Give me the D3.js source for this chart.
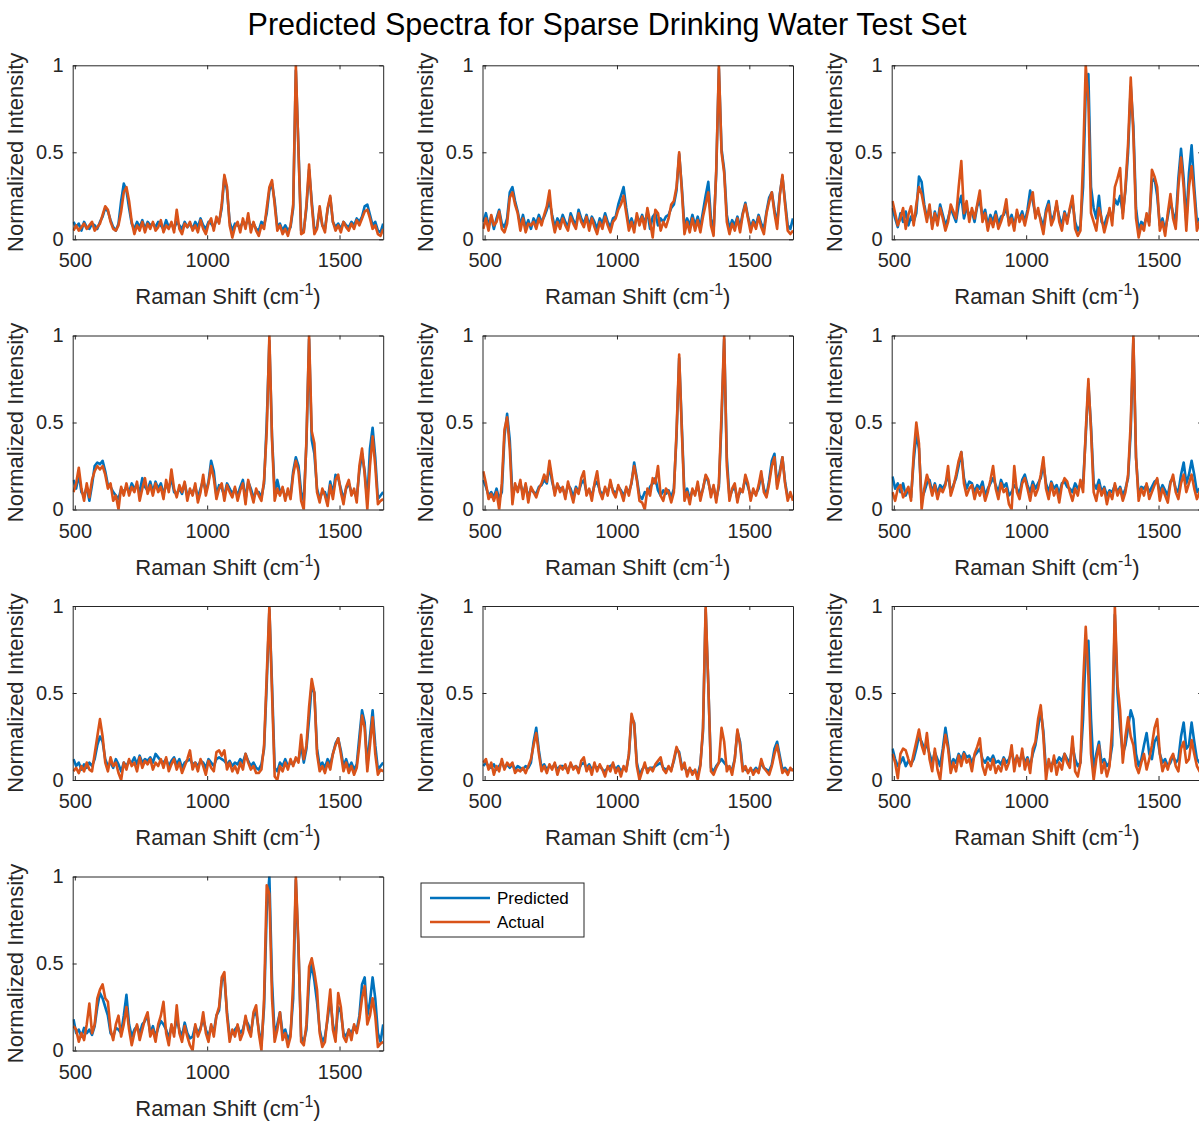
<!DOCTYPE html>
<html>
<head>
<meta charset="utf-8">
<script src="https://cdn.jsdelivr.net/npm/d3@7"></script>
<style>
  body { margin: 0; background: #fff; }
  svg { display: block; font-family: "Liberation Sans", Arial, Helvetica, sans-serif; }
</style>
</head>
<body>
<svg id="chart" width="1199" height="1122"></svg>
<script>
// Raman shift grid (cm^-1), shared by every spectrum
var shifts = [495,505,515,525,535,545,555,565,575,585, 595,605,615,625,635,645,655,665,675,685,
  695,705,715,725,735,745,755,765,775,785, 795,805,815,825,835,845,855,865,875,885,
  895,905,915,925,935,945,955,965,975,985, 995,1005,1015,1025,1035,1045,1055,1065,1075,1085,
  1095,1105,1115,1125,1135,1145,1155,1165,1175,1185, 1195,1205,1215,1225,1235,1245,1255,1265,1275,1285,
  1295,1305,1315,1325,1335,1345,1355,1365,1375,1385, 1395,1405,1415,1425,1435,1445,1455,1465,1475,1485,
  1495,1505,1515,1525,1535,1545,1555,1565,1575,1585, 1595,1605,1615,1625,1635,1645,1655,1665];

// normalized intensities
var predicted1 = [.1,.07,.09,.05,.1,.07,.06,.09,.08,.06, .1,.13,.18,.16,.11,.07,.05,.09,.22,.32, .28,.18,.09,.06,.1,.07,.11,.06,.1,.08, .09,.07,.1,.08,.06,.11,.07,.09,.06,.1, .08,.06,.1,.07,.09,.06,.1,.07,.12,.08, .06,.1,.09,.07,.11,.1,.18,.36,.28,.1,
  .05,.09,.08,.07,.1,.08,.12,.07,.09,.06, .05,.1,.08,.15,.28,.32,.22,.07,.09,.05, .08,.05,.07,.18,.97,.52,.05,.05,.18,.4, .22,.05,.07,.17,.08,.06,.17,.24,.1,.07, .09,.06,.1,.08,.07,.1,.08,.12,.1,.13, .19,.2,.14,.08,.1,.05,.04,.09];
var actual1 = [.05,.08,.05,.07,.09,.06,.08,.1,.05,.07, .09,.14,.19,.17,.1,.06,.05,.08,.16,.27, .3,.22,.1,.03,.08,.05,.1,.04,.09,.06, .1,.05,.07,.11,.04,.08,.06,.1,.04,.17, .06,.03,.09,.07,.1,.05,.08,.04,.11,.06, .03,.09,.12,.05,.13,.09,.2,.37,.3,.08,
  .01,.07,.1,.04,.12,.06,.15,.04,.1,.05, .02,.08,.06,.18,.3,.34,.2,.05,.08,.03, .06,.02,.08,.2,1,.5,.03,.04,.2,.43, .2,.03,.06,.19,.08,.04,.18,.25,.1,.05, .08,.04,.1,.07,.05,.09,.06,.11,.08,.12, .16,.17,.12,.06,.08,.03,.02,.06];

var predicted2 = [.1,.15,.08,.13,.06,.12,.17,.09,.07,.12, .27,.3,.22,.16,.08,.14,.07,.11,.06,.12, .09,.14,.1,.13,.17,.22,.14,.07,.12,.09, .14,.1,.07,.15,.11,.08,.17,.12,.09,.14, .08,.13,.1,.06,.12,.09,.15,.1,.07,.12, .13,.2,.25,.3,.18,.08,.12,.07,.13,.1,
  .14,.09,.16,.06,.13,.15,.08,.12,.1,.13, .14,.18,.2,.28,.49,.3,.07,.12,.08,.14, .08,.13,.07,.16,.25,.33,.12,.05,.38,.98, .52,.4,.14,.06,.11,.08,.13,.07,.15,.21, .13,.07,.11,.08,.14,.09,.06,.16,.24,.27, .17,.09,.26,.36,.22,.08,.06,.12];
var actual2 = [.06,.12,.05,.14,.08,.1,.16,.06,.04,.09, .24,.27,.2,.15,.05,.12,.04,.09,.08,.1, .06,.12,.08,.14,.19,.28,.12,.04,.1,.06, .12,.08,.05,.13,.09,.06,.15,.1,.07,.13, .05,.12,.07,.03,.1,.06,.13,.08,.04,.1, .12,.17,.2,.25,.15,.05,.1,.04,.15,.08,
  .13,.06,.18,.1,.01,.17,.15,.05,.1,.07, .12,.2,.22,.3,.5,.28,.03,.1,.04,.12, .05,.11,.04,.13,.2,.27,.08,.02,.4,1, .5,.38,.1,.03,.09,.05,.12,.04,.14,.2, .12,.04,.1,.06,.13,.07,.03,.15,.22,.27, .15,.06,.25,.37,.2,.05,.03,.05];

var predicted3 = [.18,.12,.07,.15,.1,.16,.08,.13,.1,.15, .36,.33,.2,.12,.18,.08,.16,.1,.2,.14, .08,.12,.18,.14,.1,.2,.25,.12,.18,.14, .16,.1,.19,.22,.13,.17,.08,.14,.1,.16, .09,.13,.14,.18,.1,.14,.08,.15,.12,.16, .1,.17,.28,.22,.14,.16,.12,.07,.17,.22,
  .1,.14,.2,.13,.08,.16,.11,.17,.22,.1, .05,.08,.3,.85,.95,.3,.18,.12,.25,.1, .08,.13,.16,.12,.23,.2,.25,.15,.28,.5, .88,.65,.18,.05,.1,.08,.13,.1,.33,.35, .25,.08,.12,.05,.13,.22,.15,.1,.35,.52, .35,.1,.38,.54,.3,.1,.12,.1];
var actual3 = [.22,.15,.08,.12,.18,.06,.14,.19,.08,.2, .3,.26,.18,.1,.2,.06,.15,.08,.18,.12, .05,.1,.2,.16,.12,.3,.45,.15,.22,.1, .18,.12,.2,.28,.1,.15,.05,.12,.07,.14, .06,.1,.15,.23,.08,.12,.05,.17,.1,.14, .08,.15,.22,.27,.12,.18,.1,.03,.15,.2,
  .08,.12,.22,.1,.05,.15,.09,.18,.25,.06, .02,.05,.45,1,.8,.15,.1,.05,.18,.12, .04,.1,.18,.08,.3,.35,.41,.12,.3,.55, .93,.6,.12,.01,.08,.05,.15,.08,.4,.36, .3,.05,.1,.02,.15,.26,.12,.06,.3,.47, .3,.05,.3,.42,.25,.05,.1,.08];

var predicted4 = [.17,.12,.2,.1,.08,.13,.05,.14,.25,.27, .26,.28,.22,.14,.13,.1,.08,.06,.12,.1, .13,.1,.15,.12,.14,.1,.18,.13,.11,.16, .1,.16,.12,.15,.09,.14,.12,.18,.1,.09, .12,.09,.15,.08,.1,.1,.13,.07,.12,.17, .1,.16,.28,.22,.08,.14,.12,.08,.15,.12,
  .09,.12,.08,.13,.17,.06,.16,.12,.07,.1, .1,.07,.15,.5,.97,.42,.1,.17,.1,.12, .07,.1,.08,.22,.3,.25,.1,.05,.38,.98, .4,.32,.12,.06,.1,.1,.05,.16,.09,.2, .18,.12,.06,.12,.15,.1,.1,.07,.22,.32, .22,.05,.35,.47,.3,.06,.08,.1];
var actual4 = [.1,.15,.24,.12,.05,.15,.07,.17,.22,.25, .23,.25,.2,.12,.15,.05,.08,0,.13,.08, .15,.08,.13,.1,.16,.05,.12,.18,.09,.14, .08,.15,.1,.13,.06,.17,.1,.23,.12,.07, .14,.1,.16,.05,.12,.08,.15,.04,.1,.2, .08,.15,.25,.18,.06,.12,.15,.05,.14,.1,
  .07,.13,.05,.11,.15,.03,.17,.1,.04,.12, .08,.05,.17,.45,1,.4,.05,.12,.08,.13, .05,.12,.06,.2,.28,.22,.05,0,.4,1, .45,.38,.1,.04,.12,.08,.02,.14,.06,.17, .2,.1,.03,.13,.17,.08,.12,.04,.25,.35, .2,0,.25,.42,.25,.03,.05,.06];

var predicted5 = [.17,.13,.08,.1,.07,.12,.06,.1,.42,.55, .4,.08,.13,.12,.15,.09,.14,.07,.12,.1, .09,.13,.14,.17,.15,.25,.16,.1,.14,.12, .12,.08,.14,.12,.07,.13,.1,.15,.17,.1, .11,.08,.14,.16,.11,.08,.12,.1,.15,.11, .09,.13,.11,.08,.12,.1,.15,.27,.18,.08,
  .06,.1,.09,.13,.15,.18,.11,.08,.11,.09, .11,.07,.12,.42,.87,.48,.08,.12,.06,.11, .09,.14,.07,.12,.19,.16,.09,.13,.06,.13, .5,.98,.3,.07,.11,.13,.06,.1,.11,.18, .13,.08,.1,.09,.12,.2,.12,.08,.17,.28, .32,.14,.22,.3,.16,.07,.08,.06];
var actual5 = [.22,.15,.06,.09,.05,.1,0,.15,.46,.53, .35,.03,.15,.1,.17,.06,.15,.04,.13,.1, .07,.12,.15,.2,.16,.28,.18,.08,.15,.1, .13,.06,.16,.1,.04,.12,.09,.18,.22,.08, .12,.05,.15,.22,.1,.06,.13,.08,.17,.1, .07,.14,.1,.05,.13,.08,.16,.25,.17,.05,
  .04,0,.12,.08,.18,.15,.25,.08,.05,.12, .1,.04,.1,.45,.89,.45,.05,.1,.03,.12, .08,.16,.05,.12,.2,.17,.07,.14,.04,.15, .55,1,.25,.05,.12,.15,.04,.12,.1,.2, .15,.05,.12,.08,.14,.22,.1,.07,.15,.25, .3,.12,.2,.3,.15,.05,.1,.05];

var predicted6 = [.19,.12,.15,.1,.15,.08,.12,.07,.28,.43, .35,.06,.1,.15,.17,.1,.15,.09,.14,.12, .15,.2,.1,.14,.18,.25,.33,.18,.12,.16, .15,.1,.14,.12,.16,.08,.12,.15,.18,.14, .1,.17,.13,.15,.08,.1,.14,.12,.09,.17, .2,.14,.1,.16,.12,.15,.18,.26,.15,.1,
  .16,.12,.14,.09,.15,.16,.13,.12,.1,.15, .12,.14,.15,.42,.72,.48,.15,.12,.17,.1, .13,.08,.11,.1,.14,.1,.13,.08,.12,.18, .45,.98,.3,.08,.13,.12,.14,.1,.13,.16, .17,.1,.14,.11,.08,.16,.18,.12,.1,.2, .27,.15,.2,.28,.2,.1,.12,.1];
var actual6 = [.1,.05,.12,.14,.07,.1,.13,.05,.32,.5, .38,0,.12,.2,.15,.08,.14,.06,.12,.1, .14,.25,.08,.13,.2,.28,.33,.15,.08,.12, .14,.06,.12,.08,.13,.05,.1,.17,.25,.12, .06,.15,.1,.12,.03,0,.25,.1,.06,.15, .18,.12,.05,.14,.08,.12,.2,.3,.12,.06,
  .15,.08,.12,.04,.14,.18,.16,.1,.05,.12, .08,.17,.1,.45,.75,.45,.1,.05,.14,.08, .12,.03,.1,.06,.15,.08,.12,.05,.1,.2, .5,1,.3,.05,.12,.08,.15,.06,.1,.14, .18,.05,.12,.08,.04,.15,.2,.1,.06,.15, .2,.1,.15,.2,.12,.06,.1,.08];

var predicted7 = [.12,.08,.1,.06,.09,.07,.1,.08,.12,.2, .25,.22,.12,.08,.1,.07,.12,.09,.05,.1, .08,.11,.1,.13,.09,.14,.1,.12,.11,.13, .1,.15,.13,.11,.1,.12,.08,.11,.13,.09, .12,.07,.1,.11,.12,.09,.1,.08,.11,.1, .07,.12,.1,.08,.12,.13,.12,.11,.09,.11,
  .08,.1,.09,.12,.1,.15,.11,.08,.1,.07, .06,.09,.18,.55,.98,.55,.07,.05,.1,.08, .12,.08,.1,.09,.12,.11,.2,.1,.18,.35, .55,.5,.18,.08,.1,.07,.12,.09,.15,.21, .24,.17,.08,.12,.07,.1,.06,.09,.25,.4, .33,.08,.25,.4,.2,.06,.08,.1];
var actual7 = [.05,.07,.04,.08,.05,.1,.06,.05,.15,.25, .35,.25,.1,.05,.13,.08,.1,.04,0,.1, .06,.12,.08,.1,.05,.13,.07,.11,.09,.12, .06,.1,.08,.12,.07,.13,.05,.09,.12,.06, .1,.04,.08,.12,.17,.06,.1,.05,.12,.08, .03,.11,.07,.05,.16,.17,.14,.17,.06,.1,
  .05,.08,.04,.1,.06,.15,.1,.06,.08,.04, .04,.06,.2,.6,1,.5,.02,0,.08,.05, .1,.06,.12,.08,.13,.1,.26,.12,.2,.42, .58,.5,.15,.05,.08,.04,.1,.06,.15,.2, .24,.15,.05,.1,.04,.08,.03,.07,.2,.37, .3,.05,.2,.36,.15,.03,.06,.05];

var predicted8 = [.08,.1,.08,.07,.09,.06,.08,.1,.07,.09, .07,.09,.06,.08,.07,.06,.08,.07,.1,.22, .3,.17,.07,.09,.06,.08,.07,.09,.06,.08, .08,.07,.06,.09,.07,.08,.06,.09,.1,.07, .09,.06,.08,.07,.08,.06,.05,.07,.08,.09, .06,.08,.05,.07,.06,.14,.36,.33,.1,.03,
  .06,.08,.06,.07,.07,.08,.09,.1,.07,.06, .07,.06,.11,.18,.16,.08,.07,.05,.06,.05, .05,.03,.09,.28,.98,.55,.07,.05,.08,.1, .12,.1,.08,.07,.06,.12,.28,.22,.07,.06, .05,.06,.05,.07,.05,.1,.07,.06,.05,.09, .18,.22,.14,.06,.07,.05,.06,.06];
var actual8 = [.1,.12,.06,.1,.03,.08,.05,.12,.06,.1, .08,.1,.04,.06,.05,.07,.04,.08,.12,.2, .27,.15,.05,.08,.04,.09,.06,.1,.03,.08, .06,.09,.04,.1,.06,.08,.04,.11,.13,.05, .08,.03,.1,.05,.09,.06,.02,.08,.05,.1, .04,.07,.02,.08,.05,.15,.38,.32,.08,0,
  .05,.1,.04,.07,.05,.09,.11,.13,.06,.04, .08,.05,.12,.19,.15,.06,.1,.02,.07,.03, .06,0,.08,.3,1,.55,.05,.03,.07,.1, .3,.22,.05,.08,.03,.12,.29,.2,.05,.08, .04,.07,.03,.06,.04,.12,.07,.05,.03,.08, .15,.2,.12,.04,.06,.03,.07,.05];

var predicted9 = [.18,.12,.08,.1,.13,.08,.11,.09,.12,.18, .25,.22,.18,.2,.15,.1,.16,.12,.08,.18, .3,.2,.08,.12,.1,.15,.12,.16,.13,.14, .1,.14,.16,.18,.12,.1,.13,.11,.14,.1, .11,.09,.13,.1,.12,.16,.1,.13,.11,.15, .1,.13,.08,.15,.2,.3,.4,.28,.05,.1,
  .08,.12,.1,.13,.11,.15,.12,.1,.2,.12, .08,.1,.35,.75,.8,.35,.05,.15,.22,.1, .12,.08,.1,.2,.95,.5,.3,.15,.2,.3, .4,.35,.15,.08,.12,.2,.27,.15,.12,.22, .25,.15,.1,.12,.08,.1,.14,.1,.12,.25, .33,.18,.2,.33,.22,.12,.1,.12];
var actual9 = [.15,.1,.01,.15,.18,.17,.12,.08,.15,.22, .29,.2,.15,.27,.12,.05,.18,.06,0,.15, .26,.18,.04,.1,.05,.14,.08,.15,.1,.12, .05,.15,.19,.24,.08,.03,.1,.06,.12,.04, .08,.05,.12,.06,.1,.2,.05,.14,.08,.18, .06,.12,.04,.18,.22,.35,.43,.25,0,.12,
  .05,.14,.03,.1,.06,.15,.1,.07,.25,.05, .02,.1,.55,.88,.6,.15,0,.12,.2,.04, .1,.02,.08,.3,1,.55,.4,.1,.25,.36, .25,.2,.08,.04,.1,.15,.06,.12,.2,.3, .35,.15,.05,.1,.06,.12,.15,.08,.05,.18, .22,.1,.12,.23,.15,.08,.05,.08];

var predicted10 = [.18,.1,.12,.08,.13,.1,.12,.09,.14,.25, .33,.3,.25,.2,.1,.08,.13,.12,.1,.2, .32,.15,.08,.12,.14,.1,.15,.17,.2,.1, .14,.08,.13,.17,.15,.12,.07,.14,.1,.18, .12,.08,.16,.1,.07,.08,.14,.1,.13,.18, .12,.08,.14,.11,.2,.23,.4,.42,.22,.08,
  .1,.12,.14,.1,.12,.18,.15,.1,.2,.22, .12,.03,.25,.8,1,.4,.08,.15,.22,.1, .12,.06,.1,.3,.98,.58,.08,.05,.12,.4, .5,.4,.28,.12,.05,.08,.18,.3,.15,.08, .25,.22,.1,.08,.12,.1,.14,.12,.2,.38, .42,.2,.28,.42,.3,.1,.05,.15];
var actual10 = [.14,.12,.05,.1,.06,.15,.27,.1,.15,.3, .35,.38,.3,.28,.12,.06,.15,.2,.08,.15, .25,.12,.03,.1,.15,.06,.12,.18,.22,.08, .12,.05,.15,.2,.28,.1,.03,.15,.08,.26, .1,.05,.14,.08,.03,0,.15,.08,.12,.22, .1,.05,.15,.08,.2,.25,.42,.45,.2,.05,
  .12,.08,.15,.06,.1,.2,.12,.08,.22,.26, .1,0,.3,.95,.9,.3,.05,.12,.22,.06, .1,.02,.08,.4,1,.6,.05,.03,.15,.48, .53,.45,.35,.1,.02,.05,.2,.35,.12,.05, .33,.25,.08,.05,.12,.06,.15,.1,.18,.3, .37,.15,.2,.3,.2,.02,.04,.05];

var panels = [
  [predicted1, actual1], [predicted2, actual2], [predicted3, actual3],
  [predicted4, actual4], [predicted5, actual5], [predicted6, actual6],
  [predicted7, actual7], [predicted8, actual8], [predicted9, actual9],
  [predicted10, actual10]
];
var seriesNames = ["Predicted", "Actual"];
var seriesColors = ["#0072BD", "#D95319"];
var xTicks = [500, 1000, 1500];
var yTicks = [0, 0.5, 1];
var title = "Predicted Spectra for Sparse Drinking Water Test Set";

panels.forEach(function(p, i) {
  p.forEach(function(s) {
    if (s.length !== shifts.length) throw new Error("panel " + (i + 1) + " has " + s.length + " points");
  });
});

// layout
var plotW = 310.5, plotH = 174,
  colX = [72.7, 482.5, 891.7],
  rowY = [65.3, 335.5, 606, 876.5],
  ink = "#262626";

var svg = d3.select("#chart");

var x = d3.scaleLinear().domain([492, 1665]).range([0, plotW]);
var y = d3.scaleLinear().domain([0, 1]).range([plotH, 0]);
var line = d3.line()
  .x(function(d) { return x(d[0]); })
  .y(function(d) { return y(d[1]); });

svg.append("text")
  .attr("x", 607)
  .attr("y", 35)
  .attr("text-anchor", "middle")
  .attr("font-size", 30.5)
  .attr("fill", "#000")
  .text(title);

panels.forEach(function(p, i) {
  var g = svg.append("g")
    .attr("transform", "translate(" + colX[i % 3] + "," + rowY[Math.floor(i / 3)] + ")");

  g.append("clipPath").attr("id", "clip" + i)
    .append("rect").attr("width", plotW).attr("height", plotH);

  var plot = g.append("g").attr("clip-path", "url(#clip" + i + ")");
  p.forEach(function(values, k) {
    plot.append("path")
      .datum(d3.zip(shifts, values))
      .attr("fill", "none")
      .attr("stroke", seriesColors[k])
      .attr("stroke-width", 2.6)
      .attr("stroke-linejoin", "round")
      .attr("d", line);
  });

  // box with inward ticks on all four sides
  var axes = [
    { a: d3.axisBottom(x).tickValues(xTicks).tickFormat(d3.format("d")).tickPadding(14), t: "translate(0," + plotH + ")" },
    { a: d3.axisLeft(y).tickValues(yTicks).tickFormat(d3.format("")).tickPadding(9), t: null },
    { a: d3.axisTop(x).tickValues(xTicks).tickFormat(""), t: null },
    { a: d3.axisRight(y).tickValues(yTicks).tickFormat(""), t: "translate(" + plotW + ",0)" }
  ];
  axes.forEach(function(ax) {
    var ag = g.append("g").call(ax.a.tickSizeInner(-4).tickSizeOuter(0));
    ag.attr("font-family", null).attr("font-size", 20);
    if (ax.t) ag.attr("transform", ax.t);
    ag.select(".domain").attr("stroke", ink);
    ag.selectAll(".tick line").attr("stroke", ink);
    ag.selectAll(".tick text").attr("fill", ink);
  });

  var xl = g.append("text")
    .attr("x", plotW / 2)
    .attr("y", plotH + 65)
    .attr("text-anchor", "middle")
    .attr("font-size", 22)
    .attr("fill", ink);
  xl.append("tspan").text("Raman Shift (cm");
  xl.append("tspan").attr("font-size", 16).attr("dy", -9).text("-1");
  xl.append("tspan").attr("dy", 9).text(")");

  g.append("text")
    .attr("transform", "translate(-50," + plotH / 2 + ") rotate(-90)")
    .attr("text-anchor", "middle")
    .attr("font-size", 22)
    .attr("fill", ink)
    .text("Normalized Intensity");
});

// legend
var legend = svg.append("g").attr("transform", "translate(421,883)");
legend.append("rect")
  .attr("width", 163).attr("height", 54)
  .attr("fill", "#fff").attr("stroke", ink);
seriesNames.forEach(function(name, k) {
  var ly = 15 + k * 24;
  legend.append("line")
    .attr("x1", 9).attr("x2", 69).attr("y1", ly).attr("y2", ly)
    .attr("stroke", seriesColors[k]).attr("stroke-width", 2.6);
  legend.append("text")
    .attr("x", 76).attr("y", ly).attr("dy", "0.35em")
    .attr("font-size", 17).attr("fill", "#000")
    .text(name);
});
</script>
</body>
</html>
